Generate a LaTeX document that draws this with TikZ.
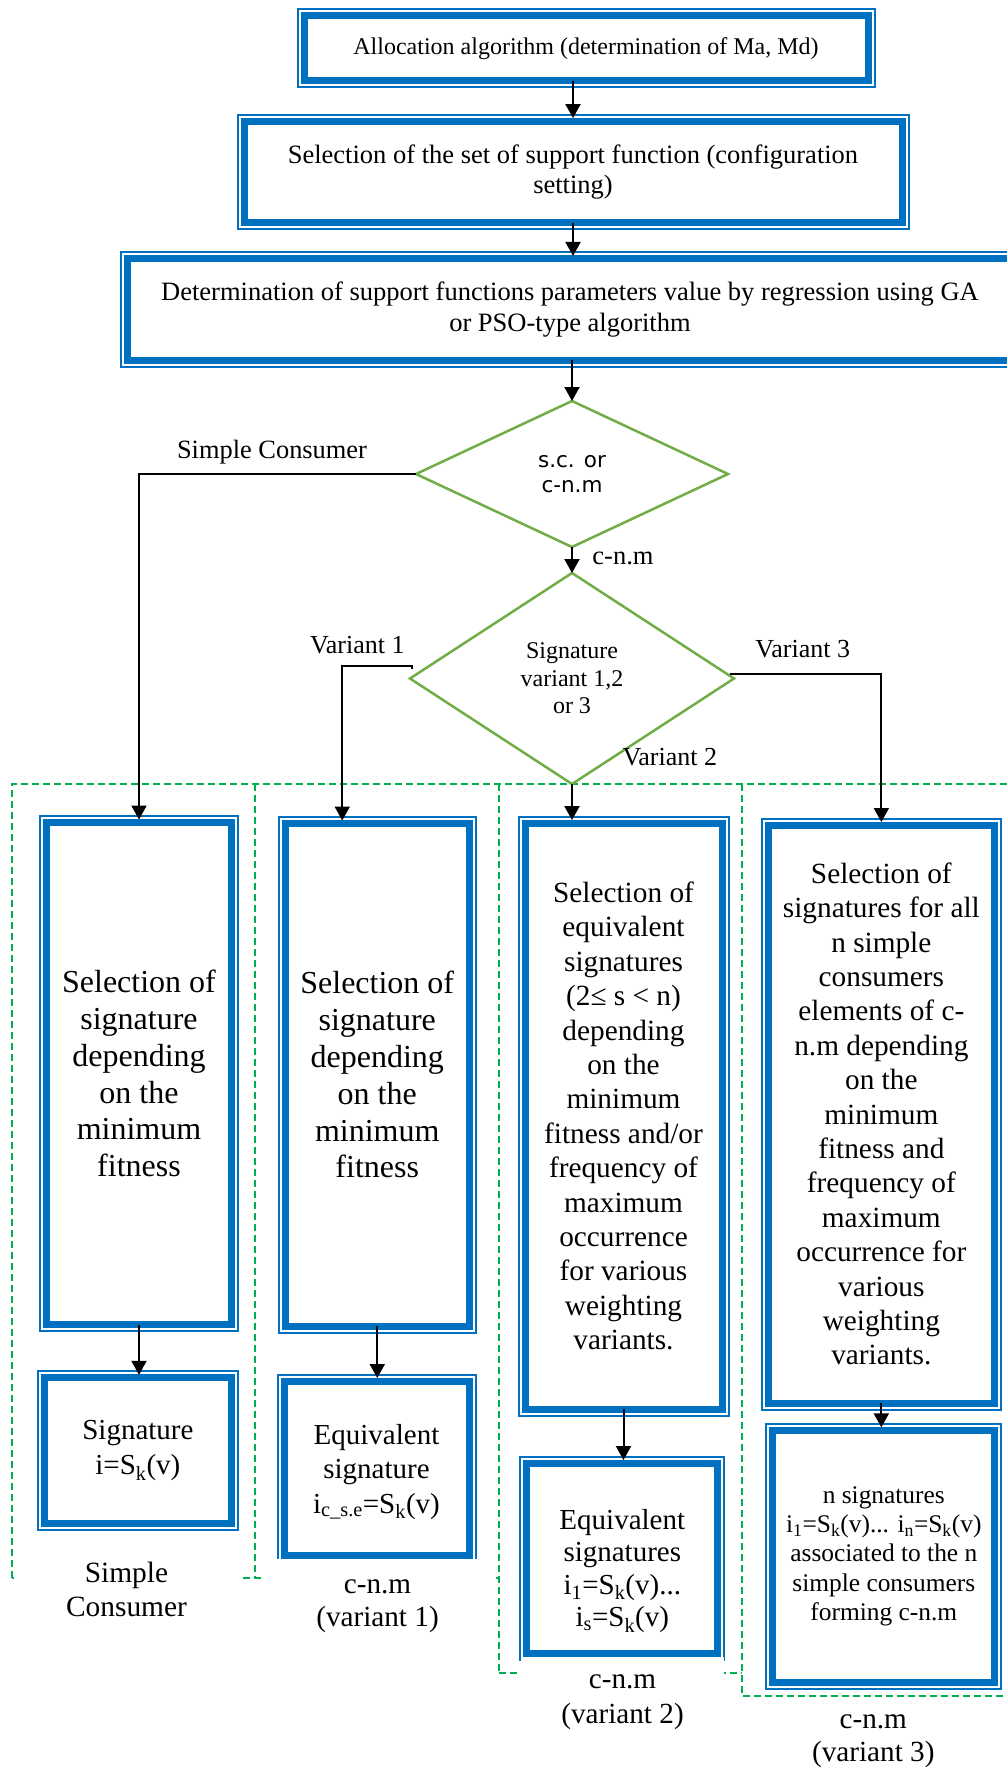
\documentclass[tikz,border=0pt]{standalone}
\usepackage{fontspec}
\setmainfont{Liberation Serif}
\newfontfamily\decfont{DejaVu Sans}
\usetikzlibrary{shapes.geometric,arrows.meta,calc}
\definecolor{boxblue}{HTML}{0070C0}
\definecolor{decgreen}{HTML}{70AD47}
\definecolor{zonegreen}{HTML}{00B050}
\newcommand{\fsz}[2]{\fontsize{#1}{#2}\selectfont}
\tikzstyle{stepbox} = [
    draw=boxblue,
    fill=white,
    line width=7pt,
    rectangle,
    align=center,
    inner sep=0pt,
    outer sep=0pt,
    preaction={draw=boxblue, line width=15pt},
    preaction={draw=white, line width=11pt}
    ]
\tikzstyle{decision} = [
    draw=decgreen,
    line width=2.5pt,
    diamond,
    align=center,
    inner sep=0pt,
    outer sep=0pt
    ]
\tikzstyle{zone} = [
    draw=zonegreen,
    line width=2pt,
    dash pattern=on 7pt off 4pt
    ]
\tikzstyle{flow} = [
    line width=2pt,
    -{Triangle[length=14pt,width=15pt]}
    ]
\tikzstyle{caption} = [
    fill=white,
    inner sep=0pt,
    align=center
    ]
\tikzstyle{edgetext} = [
    inner sep=0pt,
    font=\fsz{26}{30}
    ]

\begin{document}
\begin{tikzpicture}[x=1pt,y=-1pt]
\useasboundingbox (0,0) rectangle (1007,1773);
\clip (0,0) rectangle (1007,1773);

% dashed zones of the four cases
\draw[zone] (12,1578) -- (12,784) -- (1015,784);
\draw[zone] (255,784) -- (255,1578);
\draw[zone] (498.5,784) -- (498.5,1673);
\draw[zone] (741.5,784) -- (741.5,1696) -- (1015,1696);
\draw[zone] (12,1578) -- (498.5,1578);
\draw[zone] (498.5,1673) -- (741.5,1673);

\node[stepbox, minimum width=564, minimum height=65, font=\fsz{24}{28}] (alloc) at (586,48.4)
    {Allocation algorithm (determination of Ma, Md)};
\node[stepbox, minimum width=658, minimum height=101.5, font=\fsz{26.5}{30}] (supset) at (573,171.8)
    {Selection of the set of support function (configuration\\ setting)};
\node[stepbox, minimum width=885, minimum height=101.3, font=\fsz{26.5}{31.6}] (regr) at (570,309.6)
    {Determination of support functions parameters value by regression using GA\\ or PSO-type algorithm};

\node[decision, minimum width=312, minimum height=146, aspect=2.1, font=\decfont\fsz{21.5}{25}] (scdec) at (572,474)
    {s.c. or\\ c-n.m};
\node[decision, minimum width=324, minimum height=211, aspect=1.5, font=\fsz{24}{27.5}] (vardec) at (572,678.5)
    {Signature\\ variant 1,2\\ or 3};

% case columns
\node[stepbox, minimum width=184.6, minimum height=502, font=\fsz{32}{36.8}] (selsc) at (139,1073.5)
    {Selection of\\ signature\\ depending\\ on the\\ minimum\\ fitness};
\node[stepbox, minimum width=186.7, minimum height=146, font=\fsz{29}{35}] (sigsc) at (137.9,1450.8)
    {Signature\\ i=S\textsubscript{k}(v)};
\node[stepbox, minimum width=184.5, minimum height=502.5, font=\fsz{32}{36.8}] (selv1) at (377.25,1074.75)
    {Selection of\\ signature\\ depending\\ on the\\ minimum\\ fitness};
\node[stepbox, minimum width=185, minimum height=174, font=\fsz{29}{34.3}] (sigv1) at (376.5,1468)
    {\rule{0pt}{28pt}Equivalent\\ signature\\ i\textsubscript{c\_s.e}=S\textsubscript{k}(v)};
\node[stepbox, minimum width=197, minimum height=586, font=\fsz{29.3}{34.4}] (selv2) at (623.5,1116)
    {Selection of\\ equivalent\\ signatures\\ (2≤ s < n)\\ depending\\ on the\\ minimum\\ fitness and/or\\ frequency of\\ maximum\\ occurrence\\ for various\\ weighting\\ variants.};
\node[stepbox, minimum width=191.3, minimum height=190.3, font=\fsz{29}{32.3}] (sigv2) at (622.3,1558.2)
    {\rule{0pt}{46pt}Equivalent\\ signatures\\ i\textsubscript{1}=S\textsubscript{k}(v)...\\ i\textsubscript{s}=S\textsubscript{k}(v)};
\node[stepbox, minimum width=226.7, minimum height=578, font=\fsz{29.3}{34.4}] (selv3) at (881.35,1114)
    {Selection of\\ signatures for all\\ n simple\\ consumers\\ elements of c-\\ n.m depending\\ on the\\ minimum\\ fitness and\\ frequency of\\ maximum\\ occurrence for\\ various\\ weighting\\ variants.};
\node[stepbox, minimum width=222.3, minimum height=251.7, font=\fsz{25.4}{29.2}] (sigv3) at (883.8,1556.2)
    {n signatures\\ i\textsubscript{1}=S\textsubscript{k}(v)... i\textsubscript{n}=S\textsubscript{k}(v)\\ associated to the n\\ simple consumers\\ forming c-n.m};

\node[caption, minimum width=225, minimum height=89, font=\fsz{29.4}{33.3}] (labsc) at (126.5,1589.5)
    {Simple\\ Consumer};
\node[caption, minimum width=231, minimum height=96, font=\fsz{29.2}{33}] (labv1) at (377.5,1606.5)
    {c-n.m\\ (variant 1)};
\node[caption, minimum width=203, minimum height=91, font=\fsz{29.2}{35}] (labv2) at (622.5,1702.5)
    {c-n.m\\ (variant 2)};
\node[caption, minimum width=200, minimum height=80, font=\fsz{29.2}{33}] (labv3) at (873.3,1741.5)
    {c-n.m\\ (variant 3)};

% connectors
\draw[flow, shorten >=3pt] (alloc.south -| supset.north) -- (supset.north);
\draw[flow, shorten >=3pt] (supset.south) -- (regr.north -| supset.south);
\draw[flow] (regr.south -| scdec.north) -- (scdec.north);
\draw[flow] (scdec.south) -- (vardec.north);
\draw[flow, shorten >=3pt] (scdec.west) -| (selsc.north);
\coordinate (v1) at ($(vardec.west)+(2,-10)$);
\draw[flow, shorten >=3pt] (v1) -- ++(0,-3) -| ($(selv1.north)+(-35,0)$);
\coordinate (v3) at ($(vardec.east)+(-4,-5)$);
\draw[flow, shorten >=3pt] (v3) -| (selv3.north);
\draw[flow, shorten >=3pt] (vardec.south) -- (vardec.south |- selv2.north);
\draw[flow, shorten >=3pt] (selsc.south) -- (selsc.south |- sigsc.north);
\draw[flow, shorten >=3pt] (selv1.south) -- (selv1.south |- sigv1.north);
\draw[flow, shorten >=3pt] (selv2.south) -- (selv2.south |- sigv2.north);
\draw[flow, shorten >=3pt] (selv3.south) -- (selv3.south |- sigv3.north);

\node[edgetext, font=\fsz{26.4}{30}] (lsc) at (272,452) {Simple Consumer};
\node[edgetext, font=\fsz{26.5}{30}] (lcnm) at (623,558) {c-n.m};
\node[edgetext] (lv1) at (357.3,645) {Variant 1};
\node[edgetext] (lv3) at (802.7,649) {Variant 3};
\node[edgetext] (lv2) at (669.8,756.7) {Variant 2};
\end{tikzpicture}
\end{document}
